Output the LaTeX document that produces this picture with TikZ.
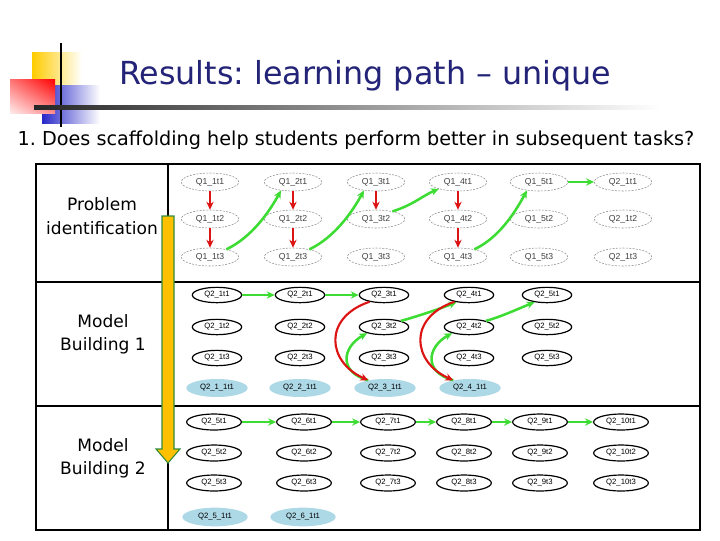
\documentclass[tikz,border=0pt]{standalone}
\usepackage{fontspec}
\setmainfont{DejaVu Sans}
\newfontfamily\graphfont{Liberation Sans}
\usetikzlibrary{shapes.geometric,arrows.meta,shadings}
\frenchspacing

\definecolor{titleblue}{RGB}{35,35,120}
\definecolor{logoyellow}{RGB}{255,204,0}
\definecolor{logoblue}{RGB}{40,40,200}
\definecolor{arrred}{RGB}{220,20,20}
\definecolor{arrgreen}{RGB}{60,220,50}
\definecolor{tutblue}{RGB}{173,216,230}
\definecolor{bigfill}{RGB}{255,192,0}
\definecolor{bigedge}{RGB}{50,140,60}

\tikzset{
  pinode/.style={ellipse, draw=black!45, dash pattern=on 1.5pt off 1pt,
    line width=0.4pt, minimum width=43pt, minimum height=13.5pt, inner sep=0pt,
    font=\graphfont\fontsize{6.5}{7}\selectfont, text=black!75},
  mbnode/.style={ellipse, draw=black, line width=0.9pt, minimum width=37pt,
    minimum height=11.5pt, inner sep=0pt, font=\graphfont\fontsize{5.8}{6}\selectfont},
  mcnode/.style={mbnode, minimum width=41pt, minimum height=12pt},
  tutnode/.style={ellipse, fill=tutblue, minimum width=46pt, minimum height=13.5pt,
    inner sep=0pt, font=\graphfont\fontsize{5.8}{6}\selectfont},
  redarr/.style={-{Stealth[length=6pt,width=5.5pt]}, draw=arrred, line width=1.6pt},
  grnarr/.style={-{Stealth[length=6pt,width=5.5pt]}, draw=arrgreen, line width=1.9pt},
  rowlab/.style={align=center, font=\fontsize{12.8}{17.5}\selectfont},
}

\begin{document}
\begin{tikzpicture}[x=0.75pt,y=-0.75pt]
  \useasboundingbox (0,0) rectangle (720,540);

  % slide logo and title rule
  \shade[left color=logoyellow, middle color=logoyellow!85, right color=white] (32,52) rectangle (82,86);
  \shade[left color=logoblue, middle color=logoblue!80, right color=white] (42,85) rectangle (100,123);
  \shade[upper right=red, upper left=red!55, lower right=red!45, lower left=red!8] (10,79) rectangle (55,113);
  \draw[line width=2.2pt] (61,43) -- (61,127);
  \shade[left color=black!85, right color=white] (34,105) rectangle (660,109);

  \node[font=\fontsize{23.8}{28}\selectfont, text=titleblue] (title) at (365,76)
    {Results: learning path -- unique};
  \node[font=\fontsize{14.4}{17}\selectfont] (question) at (356,140)
    {1. Does scaffolding help students perform better in subsequent tasks?};

  % table frame
  \draw[line width=1.2pt] (36,164) rectangle (700,530);
  \draw[line width=1.2pt] (168,164) -- (168,530);
  \draw[line width=1.2pt] (36,282) -- (700,282);
  \draw[line width=1.2pt] (36,406) -- (700,406);

  \node[rowlab] (labpi) at (102,216) {Problem\\identification};
  \node[rowlab] (labmb) at (103,334) {Model\\Building 1};
  \node[rowlab] (labmc) at (103,458) {Model\\Building 2};

  % Problem identification graph
  \foreach \c/\x/\q in {1/210/Q1\_1,2/293/Q1\_2,3/376/Q1\_3,4/458/Q1\_4,5/539/Q1\_5,6/623/Q2\_1}
    \foreach \r/\y in {1/182,2/219,3/257}
      \node[pinode] (pi\c-\r) at (\x,\y) {\q t\r};

  \foreach \a/\b in {1-1/1-2,1-2/1-3,2-1/2-2,2-2/2-3,3-1/3-2,4-1/4-2,4-2/4-3}
    \draw[redarr] (pi\a) -- (pi\b);
  \draw[grnarr] (pi1-3.25) .. controls +(25,-12) and +(-12,22) .. (pi2-1.215);
  \draw[grnarr] (pi2-3.25) .. controls +(25,-12) and +(-12,22) .. (pi3-1.215);
  \draw[grnarr] (pi3-2.25) .. controls +(20,-6) and +(-15,6) .. (pi4-1.200);
  \draw[grnarr] (pi4-3.25) .. controls +(25,-12) and +(-12,22) .. (pi5-1.215);
  \draw[grnarr] (pi5-1) -- (pi6-1);

  % Model Building 1 graph
  \foreach \c/\x in {1/217,2/300,3/384,4/469,5/547}
    \foreach \r/\y in {1/295,2/327,3/358}
      \node[mbnode] (mb\c-\r) at (\x,\y) {Q2\_\c t\r};
  \foreach \c/\x in {1/217,2/300,3/385,4/470}
    \node[tutnode] (tut\c) at (\x,388) {Q2\_\c\_1t1};

  \draw[grnarr] (mb1-1) -- (mb2-1);
  \draw[grnarr] (mb2-1) -- (mb3-1);
  \foreach \c/\d in {3/4,4/5} {
    \draw[grnarr] (tut\c.155) .. controls +(-30,-8) and +(-25,14) .. (mb\c-2.200);
    \draw[redarr] (mb\c-1.205) .. controls +(-47,16) and +(-41,-18) .. (tut\c.155);
    \draw[grnarr] (mb\c-2.20) .. controls +(15,-4) and +(-15,6) .. (mb\d-1.210);
  }

  % Model Building 2 graph
  \foreach \c/\x in {5/214,6/304,7/388,8/464,9/540,10/621}
    \foreach \r/\y in {1/422,2/453,3/483}
      \node[mcnode] (mc\c-\r) at (\x,\y) {Q2\_\c t\r};
  \foreach \c/\x in {5/215,6/303}
    \node[tutnode, minimum width=49pt, minimum height=14pt] (tut\c) at (\x,517) {Q2\_\c\_1t1};

  \foreach \a/\b in {5/6,6/7,7/8,8/9,9/10}
    \draw[grnarr] (mc\a-1) -- (mc\b-1);

  % progression arrow
  \draw[fill=bigfill, draw=bigedge, line width=0.8pt]
    (162,216) -- (174,216) -- (174,449) -- (180,449) -- (168,463)
    -- (156,449) -- (162,449) -- cycle;
\end{tikzpicture}
\end{document}
